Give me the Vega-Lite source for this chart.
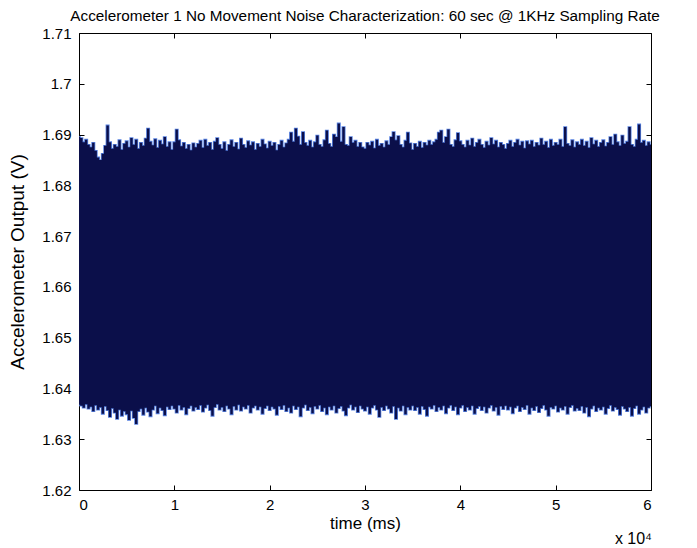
{
  "$schema": "https://vega.github.io/schema/vega-lite/v6.json",
  "autosize": "none",
  "width": 572,
  "height": 457,
  "padding": {"left": 79, "top": 33, "right": 46, "bottom": 58},
  "background": "white",
  "config": {
    "view": {"stroke": "black", "strokeWidth": 1},
    "font": "Liberation Sans",
    "axis": {
      "grid": false,
      "domain": false,
      "tickColor": "black",
      "tickSize": -5,
      "labelColor": "black",
      "labelFont": "Liberation Sans",
      "labelFontSize": 15,
      "titleFont": "Liberation Sans",
      "titleFontWeight": "normal",
      "titleFontSize": 17,
      "titleColor": "black"
    }
  },
  "title": {
    "text": "Accelerometer 1 No Movement Noise Characterization: 60 sec @ 1KHz Sampling Rate",
    "font": "Liberation Sans",
    "fontSize": 15.3,
    "fontWeight": "normal",
    "color": "black",
    "anchor": "middle",
    "offset": 2
  },
  "data": {"values": [
    {"t":0,"hi":1.6895,"lo":1.6368},{"t":250,"hi":1.6893,"lo":1.6366},{"t":500,"hi":1.6885,"lo":1.6362},{"t":750,"hi":1.6890,"lo":1.6369},{"t":1000,"hi":1.6880,"lo":1.6360},{"t":1250,"hi":1.6875,"lo":1.6364},{"t":1500,"hi":1.6884,"lo":1.6355},{"t":1750,"hi":1.6868,"lo":1.6367},{"t":2000,"hi":1.6855,"lo":1.6358},{"t":2250,"hi":1.6850,"lo":1.6363},
    {"t":2500,"hi":1.6862,"lo":1.6350},{"t":2750,"hi":1.6878,"lo":1.6365},{"t":3000,"hi":1.6918,"lo":1.6357},{"t":3250,"hi":1.6885,"lo":1.6344},{"t":3500,"hi":1.6872,"lo":1.6361},{"t":3750,"hi":1.6880,"lo":1.6352},{"t":4000,"hi":1.6876,"lo":1.6340},{"t":4250,"hi":1.6889,"lo":1.6358},{"t":4500,"hi":1.6870,"lo":1.6346},{"t":4750,"hi":1.6882,"lo":1.6355},
    {"t":5000,"hi":1.6887,"lo":1.6349},{"t":5250,"hi":1.6875,"lo":1.6338},{"t":5500,"hi":1.6893,"lo":1.6356},{"t":5750,"hi":1.6880,"lo":1.6342},{"t":6000,"hi":1.6890,"lo":1.6330},{"t":6250,"hi":1.6872,"lo":1.6355},{"t":6500,"hi":1.6884,"lo":1.6360},{"t":6750,"hi":1.6878,"lo":1.6348},{"t":7000,"hi":1.6892,"lo":1.6362},{"t":7250,"hi":1.6912,"lo":1.6354},
    {"t":7500,"hi":1.6886,"lo":1.6345},{"t":7750,"hi":1.6879,"lo":1.6358},{"t":8000,"hi":1.6891,"lo":1.6366},{"t":8250,"hi":1.6874,"lo":1.6351},{"t":8500,"hi":1.6888,"lo":1.6362},{"t":8750,"hi":1.6881,"lo":1.6357},{"t":9000,"hi":1.6895,"lo":1.6347},{"t":9250,"hi":1.6876,"lo":1.6364},{"t":9500,"hi":1.6885,"lo":1.6359},{"t":9750,"hi":1.6870,"lo":1.6366},
    {"t":10000,"hi":1.6885,"lo":1.6360},{"t":10250,"hi":1.6910,"lo":1.6352},{"t":10500,"hi":1.6889,"lo":1.6367},{"t":10750,"hi":1.6877,"lo":1.6358},{"t":11000,"hi":1.6884,"lo":1.6363},{"t":11250,"hi":1.6872,"lo":1.6349},{"t":11500,"hi":1.6880,"lo":1.6361},{"t":11750,"hi":1.6869,"lo":1.6366},{"t":12000,"hi":1.6883,"lo":1.6356},{"t":12250,"hi":1.6875,"lo":1.6363},
    {"t":12500,"hi":1.6882,"lo":1.6359},{"t":12750,"hi":1.6888,"lo":1.6367},{"t":13000,"hi":1.6874,"lo":1.6354},{"t":13250,"hi":1.6890,"lo":1.6362},{"t":13500,"hi":1.6878,"lo":1.6368},{"t":13750,"hi":1.6884,"lo":1.6357},{"t":14000,"hi":1.6870,"lo":1.6346},{"t":14250,"hi":1.6886,"lo":1.6363},{"t":14500,"hi":1.6893,"lo":1.6369},{"t":14750,"hi":1.6880,"lo":1.6358},
    {"t":15000,"hi":1.6872,"lo":1.6363},{"t":15250,"hi":1.6885,"lo":1.6355},{"t":15500,"hi":1.6868,"lo":1.6366},{"t":15750,"hi":1.6880,"lo":1.6360},{"t":16000,"hi":1.6889,"lo":1.6349},{"t":16250,"hi":1.6876,"lo":1.6365},{"t":16500,"hi":1.6884,"lo":1.6358},{"t":16750,"hi":1.6871,"lo":1.6368},{"t":17000,"hi":1.6892,"lo":1.6356},{"t":17250,"hi":1.6880,"lo":1.6364},
    {"t":17500,"hi":1.6874,"lo":1.6360},{"t":17750,"hi":1.6887,"lo":1.6367},{"t":18000,"hi":1.6879,"lo":1.6352},{"t":18250,"hi":1.6885,"lo":1.6362},{"t":18500,"hi":1.6870,"lo":1.6366},{"t":18750,"hi":1.6882,"lo":1.6358},{"t":19000,"hi":1.6876,"lo":1.6364},{"t":19250,"hi":1.6890,"lo":1.6350},{"t":19500,"hi":1.6881,"lo":1.6361},{"t":19750,"hi":1.6873,"lo":1.6366},
    {"t":20000,"hi":1.6886,"lo":1.6357},{"t":20250,"hi":1.6878,"lo":1.6364},{"t":20500,"hi":1.6884,"lo":1.6360},{"t":20750,"hi":1.6869,"lo":1.6348},{"t":21000,"hi":1.6880,"lo":1.6365},{"t":21250,"hi":1.6888,"lo":1.6359},{"t":21500,"hi":1.6875,"lo":1.6367},{"t":21750,"hi":1.6883,"lo":1.6355},{"t":22000,"hi":1.6890,"lo":1.6362},{"t":22250,"hi":1.6904,"lo":1.6352},
    {"t":22500,"hi":1.6886,"lo":1.6366},{"t":22750,"hi":1.6912,"lo":1.6359},{"t":23000,"hi":1.6896,"lo":1.6364},{"t":23250,"hi":1.6880,"lo":1.6345},{"t":23500,"hi":1.6905,"lo":1.6362},{"t":23750,"hi":1.6884,"lo":1.6368},{"t":24000,"hi":1.6878,"lo":1.6357},{"t":24250,"hi":1.6888,"lo":1.6363},{"t":24500,"hi":1.6875,"lo":1.6351},{"t":24750,"hi":1.6885,"lo":1.6365},
    {"t":25000,"hi":1.6898,"lo":1.6360},{"t":25250,"hi":1.6880,"lo":1.6367},{"t":25500,"hi":1.6876,"lo":1.6355},{"t":25750,"hi":1.6889,"lo":1.6362},{"t":26000,"hi":1.6908,"lo":1.6349},{"t":26250,"hi":1.6882,"lo":1.6364},{"t":26500,"hi":1.6876,"lo":1.6358},{"t":26750,"hi":1.6900,"lo":1.6366},{"t":27000,"hi":1.6895,"lo":1.6352},{"t":27250,"hi":1.6922,"lo":1.6361},
    {"t":27500,"hi":1.6886,"lo":1.6365},{"t":27750,"hi":1.6915,"lo":1.6356},{"t":28000,"hi":1.6880,"lo":1.6347},{"t":28250,"hi":1.6878,"lo":1.6362},{"t":28500,"hi":1.6895,"lo":1.6368},{"t":28750,"hi":1.6884,"lo":1.6358},{"t":29000,"hi":1.6888,"lo":1.6364},{"t":29250,"hi":1.6876,"lo":1.6353},{"t":29500,"hi":1.6884,"lo":1.6366},{"t":29750,"hi":1.6875,"lo":1.6360},
    {"t":30000,"hi":1.6872,"lo":1.6356},{"t":30250,"hi":1.6884,"lo":1.6364},{"t":30500,"hi":1.6879,"lo":1.6350},{"t":30750,"hi":1.6886,"lo":1.6362},{"t":31000,"hi":1.6873,"lo":1.6367},{"t":31250,"hi":1.6890,"lo":1.6358},{"t":31500,"hi":1.6878,"lo":1.6344},{"t":31750,"hi":1.6882,"lo":1.6363},{"t":32000,"hi":1.6875,"lo":1.6357},{"t":32250,"hi":1.6887,"lo":1.6366},
    {"t":32500,"hi":1.6880,"lo":1.6360},{"t":32750,"hi":1.6895,"lo":1.6352},{"t":33000,"hi":1.6905,"lo":1.6365},{"t":33250,"hi":1.6889,"lo":1.6340},{"t":33500,"hi":1.6897,"lo":1.6362},{"t":33750,"hi":1.6880,"lo":1.6356},{"t":34000,"hi":1.6875,"lo":1.6366},{"t":34250,"hi":1.6888,"lo":1.6349},{"t":34500,"hi":1.6904,"lo":1.6363},{"t":34750,"hi":1.6883,"lo":1.6358},
    {"t":35000,"hi":1.6870,"lo":1.6366},{"t":35250,"hi":1.6882,"lo":1.6357},{"t":35500,"hi":1.6876,"lo":1.6363},{"t":35750,"hi":1.6886,"lo":1.6350},{"t":36000,"hi":1.6874,"lo":1.6365},{"t":36250,"hi":1.6884,"lo":1.6359},{"t":36500,"hi":1.6879,"lo":1.6346},{"t":36750,"hi":1.6888,"lo":1.6364},{"t":37000,"hi":1.6880,"lo":1.6360},{"t":37250,"hi":1.6885,"lo":1.6367},
    {"t":37500,"hi":1.6890,"lo":1.6355},{"t":37750,"hi":1.6904,"lo":1.6363},{"t":38000,"hi":1.6908,"lo":1.6358},{"t":38250,"hi":1.6884,"lo":1.6366},{"t":38500,"hi":1.6895,"lo":1.6351},{"t":38750,"hi":1.6910,"lo":1.6362},{"t":39000,"hi":1.6880,"lo":1.6367},{"t":39250,"hi":1.6876,"lo":1.6357},{"t":39500,"hi":1.6889,"lo":1.6364},{"t":39750,"hi":1.6903,"lo":1.6349},
    {"t":40000,"hi":1.6887,"lo":1.6362},{"t":40250,"hi":1.6880,"lo":1.6367},{"t":40500,"hi":1.6875,"lo":1.6355},{"t":40750,"hi":1.6888,"lo":1.6363},{"t":41000,"hi":1.6879,"lo":1.6358},{"t":41250,"hi":1.6892,"lo":1.6366},{"t":41500,"hi":1.6876,"lo":1.6350},{"t":41750,"hi":1.6884,"lo":1.6361},{"t":42000,"hi":1.6890,"lo":1.6365},{"t":42250,"hi":1.6880,"lo":1.6357},
    {"t":42500,"hi":1.6874,"lo":1.6364},{"t":42750,"hi":1.6886,"lo":1.6352},{"t":43000,"hi":1.6879,"lo":1.6362},{"t":43250,"hi":1.6893,"lo":1.6367},{"t":43500,"hi":1.6881,"lo":1.6356},{"t":43750,"hi":1.6888,"lo":1.6363},{"t":44000,"hi":1.6875,"lo":1.6348},{"t":44250,"hi":1.6884,"lo":1.6365},{"t":44500,"hi":1.6880,"lo":1.6359},{"t":44750,"hi":1.6872,"lo":1.6366},
    {"t":45000,"hi":1.6882,"lo":1.6358},{"t":45250,"hi":1.6888,"lo":1.6364},{"t":45500,"hi":1.6876,"lo":1.6351},{"t":45750,"hi":1.6884,"lo":1.6362},{"t":46000,"hi":1.6890,"lo":1.6366},{"t":46250,"hi":1.6879,"lo":1.6355},{"t":46500,"hi":1.6886,"lo":1.6363},{"t":46750,"hi":1.6873,"lo":1.6359},{"t":47000,"hi":1.6887,"lo":1.6367},{"t":47250,"hi":1.6881,"lo":1.6350},
    {"t":47500,"hi":1.6888,"lo":1.6362},{"t":47750,"hi":1.6876,"lo":1.6357},{"t":48000,"hi":1.6884,"lo":1.6365},{"t":48250,"hi":1.6879,"lo":1.6353},{"t":48500,"hi":1.6892,"lo":1.6361},{"t":48750,"hi":1.6880,"lo":1.6367},{"t":49000,"hi":1.6886,"lo":1.6358},{"t":49250,"hi":1.6874,"lo":1.6346},{"t":49500,"hi":1.6890,"lo":1.6363},{"t":49750,"hi":1.6878,"lo":1.6360},
    {"t":50000,"hi":1.6884,"lo":1.6366},{"t":50250,"hi":1.6880,"lo":1.6354},{"t":50500,"hi":1.6890,"lo":1.6362},{"t":50750,"hi":1.6876,"lo":1.6358},{"t":51000,"hi":1.6915,"lo":1.6365},{"t":51250,"hi":1.6882,"lo":1.6350},{"t":51500,"hi":1.6878,"lo":1.6363},{"t":51750,"hi":1.6889,"lo":1.6367},{"t":52000,"hi":1.6875,"lo":1.6356},{"t":52250,"hi":1.6885,"lo":1.6361},
    {"t":52500,"hi":1.6880,"lo":1.6357},{"t":52750,"hi":1.6890,"lo":1.6365},{"t":53000,"hi":1.6878,"lo":1.6352},{"t":53250,"hi":1.6886,"lo":1.6363},{"t":53500,"hi":1.6874,"lo":1.6345},{"t":53750,"hi":1.6893,"lo":1.6360},{"t":54000,"hi":1.6881,"lo":1.6366},{"t":54250,"hi":1.6888,"lo":1.6355},{"t":54500,"hi":1.6876,"lo":1.6362},{"t":54750,"hi":1.6884,"lo":1.6358},
    {"t":55000,"hi":1.6889,"lo":1.6364},{"t":55250,"hi":1.6877,"lo":1.6350},{"t":55500,"hi":1.6884,"lo":1.6361},{"t":55750,"hi":1.6895,"lo":1.6367},{"t":56000,"hi":1.6880,"lo":1.6356},{"t":56250,"hi":1.6900,"lo":1.6363},{"t":56500,"hi":1.6885,"lo":1.6359},{"t":56750,"hi":1.6878,"lo":1.6348},{"t":57000,"hi":1.6898,"lo":1.6365},{"t":57250,"hi":1.6882,"lo":1.6360},
    {"t":57500,"hi":1.6886,"lo":1.6355},{"t":57750,"hi":1.6915,"lo":1.6363},{"t":58000,"hi":1.6880,"lo":1.6346},{"t":58250,"hi":1.6876,"lo":1.6361},{"t":58500,"hi":1.6890,"lo":1.6366},{"t":58750,"hi":1.6920,"lo":1.6350},{"t":59000,"hi":1.6884,"lo":1.6358},{"t":59250,"hi":1.6888,"lo":1.6364},{"t":59500,"hi":1.6878,"lo":1.6352},{"t":59750,"hi":1.6885,"lo":1.6362},
    {"t":60000,"hi":1.6880,"lo":1.6365}
  ]},
  "resolve": {"axis": {"x": "independent", "y": "independent"}},
  "layer": [
    {
      "mark": {"type": "line", "color": "#5680e0", "strokeWidth": 1.6, "interpolate": "step", "clip": true},
      "encoding": {
        "x": {"field": "t", "type": "quantitative", "scale": {"domain": [0, 60000], "nice": false, "zero": false},
              "axis": {"orient": "top", "labels": false, "title": null, "values": [0,10000,20000,30000,40000,50000,60000]}},
        "y": {"field": "hi", "type": "quantitative", "scale": {"domain": [1.62, 1.71], "nice": false, "zero": false},
              "axis": {"orient": "right", "labels": false, "title": null, "values": [1.62,1.63,1.64,1.65,1.66,1.67,1.68,1.69,1.7,1.71]}}
      }
    },
    {
      "mark": {"type": "line", "color": "#5680e0", "strokeWidth": 1.6, "interpolate": "step", "clip": true},
      "encoding": {
        "x": {"field": "t", "type": "quantitative", "axis": null},
        "y": {"field": "lo", "type": "quantitative", "axis": null}
      }
    },
    {
      "mark": {"type": "area", "color": "#0b0f4a", "opacity": 1, "interpolate": "step", "clip": true},
      "encoding": {
        "x": {"field": "t", "type": "quantitative",
              "axis": {"title": "time (ms)", "values": [0,10000,20000,30000,40000,50000,60000], "labelExpr": "datum.value / 10000", "labelPadding": 12, "titlePadding": 3}},
        "y": {"field": "lo", "type": "quantitative",
              "axis": {"title": "Accelerometer Output (V)", "titleFontSize": 19, "values": [1.62,1.63,1.64,1.65,1.66,1.67,1.68,1.69,1.7,1.71], "labelExpr": "format(datum.value, '~g')", "labelPadding": 13, "titlePadding": 14}},
        "y2": {"field": "hi"}
      }
    },
    {
      "data": {"values": [{"t": 60000, "v": 1.62, "label": "x 10⁴"}]},
      "mark": {"type": "text", "align": "right", "baseline": "alphabetic", "dy": 54, "dx": 1, "fontSize": 16, "font": "Liberation Sans", "color": "black"},
      "encoding": {
        "x": {"field": "t", "type": "quantitative", "axis": null},
        "y": {"field": "v", "type": "quantitative", "axis": null},
        "text": {"field": "label"}
      }
    }
  ]
}
